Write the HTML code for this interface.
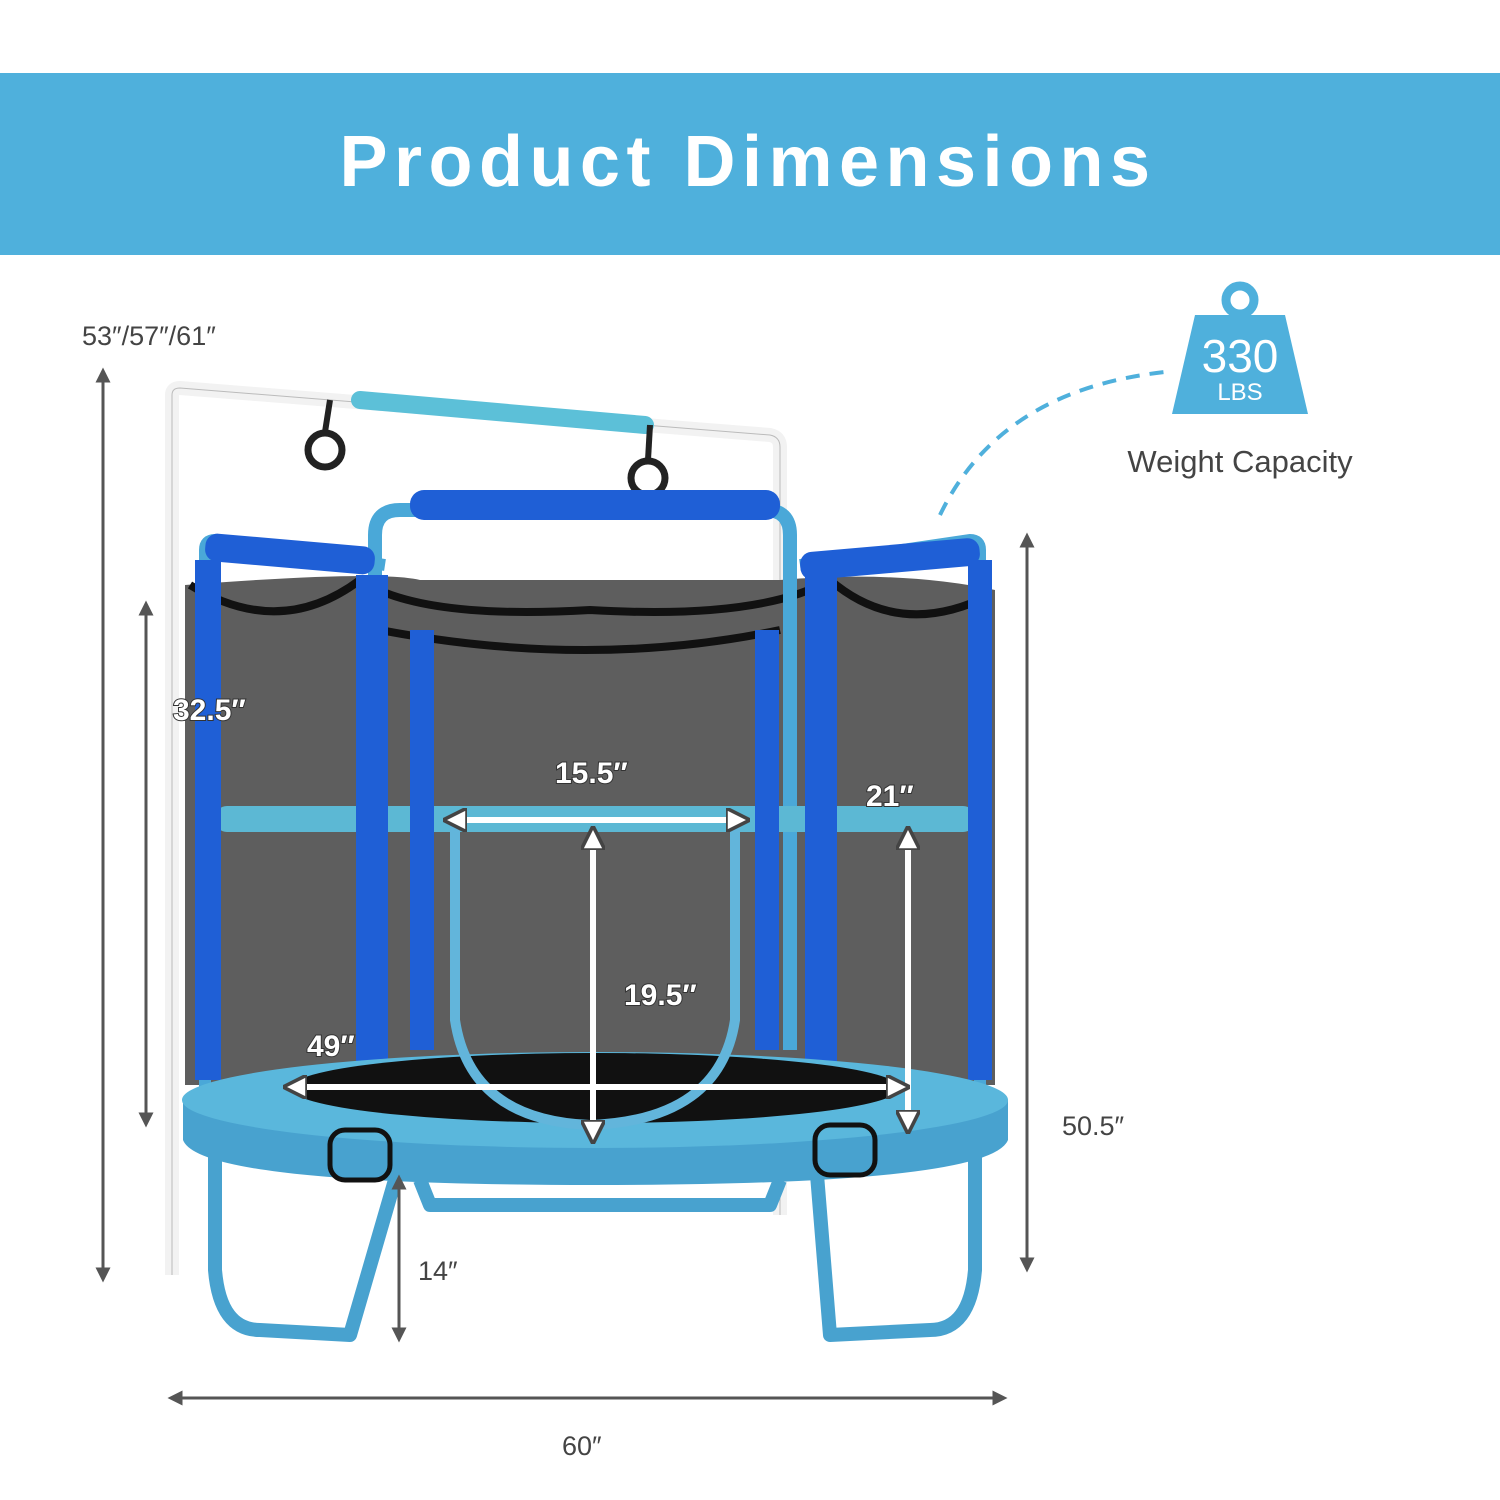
<!DOCTYPE html>
<html><head><meta charset="utf-8"><style>
html,body{margin:0;padding:0;background:#fff;}
svg{display:block}
</style></head><body>
<svg width="1500" height="1500" viewBox="0 0 1500 1500" xmlns="http://www.w3.org/2000/svg" font-family="Liberation Sans, sans-serif">
<defs>
<marker id="a" viewBox="0 0 10 10" refX="5" refY="5" markerWidth="5" markerHeight="5" orient="auto-start-reverse"><path d="M0,0 L10,5 L0,10 z" fill="#555"/></marker>
<marker id="w" viewBox="0 0 10 10" refX="5" refY="5" markerWidth="4" markerHeight="4" orient="auto-start-reverse"><path d="M0,0 L10,5 L0,10 z" fill="#fff" stroke="#444" stroke-width="1.5"/></marker>
</defs>
<rect x="0" y="73" width="1500" height="182" fill="#4fb0dc"/>
<text x="748" y="186" text-anchor="middle" font-size="72" font-weight="900" fill="#fff" letter-spacing="6.5">Product Dimensions</text>

<!-- white frame -->
<path d="M172,1275 L172,395 Q172,388 180,388 L770,435 Q780,437 780,447 L780,1215" fill="none" stroke="#f2f2f2" stroke-width="14"/>
<path d="M172,1275 L172,395 Q172,388 180,388 L770,435 Q780,437 780,447 L780,1215" fill="none" stroke="#bbb" stroke-width="1"/>
<line x1="360" y1="400" x2="645" y2="425" stroke="#5cc0d8" stroke-width="18" stroke-linecap="round"/>
<circle cx="325" cy="450" r="17" fill="none" stroke="#222" stroke-width="7"/>
<circle cx="648" cy="478" r="17" fill="none" stroke="#222" stroke-width="7"/>
<line x1="330" y1="400" x2="325" y2="432" stroke="#222" stroke-width="6"/>
<line x1="650" y1="425" x2="648" y2="460" stroke="#222" stroke-width="6"/>

<!-- net -->
<path d="M185,585 Q380,570 420,580 L780,580 Q900,570 995,590 L995,1085 L185,1085 Z" fill="#5e5e5e"/>
<path d="M190,585 Q280,640 360,580 Q420,620 590,610 Q760,620 830,580 Q900,640 990,595" fill="none" stroke="#111" stroke-width="8"/>
<path d="M380,630 Q590,670 780,630" fill="none" stroke="#111" stroke-width="8"/>
<!-- arch -->
<path d="M375,1050 L375,535 Q375,510 400,510 L765,510 Q790,510 790,535 L790,1050" fill="none" stroke="#4aa8d8" stroke-width="14"/>
<rect x="410" y="490" width="370" height="30" rx="14" fill="#1f5fd6"/>
<path d="M205,1120 L205,550 Q205,540 215,540 L385,565 M980,1120 L980,550 Q980,540 970,540 L800,565" fill="none" stroke="#4aa8d8" stroke-width="12"/>
<rect x="205" y="540" width="170" height="28" rx="12" fill="#1f5fd6" transform="rotate(5 290 554)"/>
<rect x="800" y="545" width="180" height="28" rx="12" fill="#1f5fd6" transform="rotate(-5 890 559)"/>
<!-- horizontal bar -->
<rect x="215" y="806" width="760" height="26" rx="12" fill="#5cb8d4"/>
<!-- blue poles -->
<g fill="#1f5fd6">
<rect x="195" y="560" width="26" height="520"/>
<rect x="356" y="575" width="32" height="560"/>
<rect x="410" y="630" width="24" height="420"/>
<rect x="755" y="630" width="24" height="420"/>
<rect x="805" y="575" width="32" height="560"/>
<rect x="968" y="560" width="24" height="520"/>
</g>
<!-- base -->
<path d="M183,1100 L183,1140 Q200,1185 595,1185 Q990,1185 1008,1140 L1008,1100 Z" fill="#48a2cf"/>
<ellipse cx="595" cy="1100" rx="413" ry="48" fill="#5ab7dc"/>
<ellipse cx="595" cy="1088" rx="305" ry="35" fill="#111"/>
<!-- door -->
<path d="M455,820 L455,1020 Q470,1120 590,1125 Q720,1120 735,1020 L735,820" fill="none" stroke="#62b5db" stroke-width="10"/>
<!-- legs -->
<path d="M215,1155 L215,1270 Q220,1330 260,1330 L350,1335 L395,1180 M975,1155 L975,1270 Q970,1330 930,1330 L830,1335 L815,1150 M420,1180 L430,1205 L770,1205 L780,1180" fill="none" stroke="#48a2cf" stroke-width="14" stroke-linejoin="round"/>
<rect x="330" y="1130" width="60" height="50" rx="15" fill="none" stroke="#111" stroke-width="5"/>
<rect x="815" y="1125" width="60" height="50" rx="15" fill="none" stroke="#111" stroke-width="5"/>

<!-- white arrows -->
<g stroke="#fff" stroke-width="6" marker-start="url(#w)" marker-end="url(#w)" fill="none">
<line x1="455" y1="820" x2="738" y2="820"/>
<line x1="593" y1="838" x2="593" y2="1132"/>
<line x1="908" y1="838" x2="908" y2="1122"/>
<line x1="295" y1="1087" x2="898" y2="1087"/>
</g>
<g font-size="30" font-weight="bold" fill="#fff" stroke="#333" stroke-width="2" paint-order="stroke">
<text x="555" y="783">15.5″</text>
<text x="866" y="806">21″</text>
<text x="624" y="1005">19.5″</text>
<text x="307" y="1056">49″</text>
<text x="173" y="720">32.5″</text>
</g>

<!-- gray dimension lines -->
<g stroke="#555" stroke-width="3" marker-start="url(#a)" marker-end="url(#a)">
<line x1="103" y1="375" x2="103" y2="1275"/>
<line x1="146" y1="608" x2="146" y2="1120"/>
<line x1="1027" y1="540" x2="1027" y2="1265"/>
<line x1="399" y1="1182" x2="399" y2="1335"/>
<line x1="175" y1="1398" x2="1000" y2="1398"/>
</g>
<g font-size="27" fill="#444">
<text x="82" y="345">53″/57″/61″</text>
<text x="418" y="1280">14″</text>
<text x="1062" y="1135">50.5″</text>
<text x="562" y="1455">60″</text>
</g>

<!-- weight -->
<path d="M940,515 Q1000,390 1165,372" fill="none" stroke="#4fb0dc" stroke-width="4" stroke-dasharray="14,10"/>
<circle cx="1240" cy="300" r="14" fill="none" stroke="#4fb0dc" stroke-width="9"/>
<path d="M1195,315 L1285,315 L1308,414 L1172,414 Z" fill="#4fb0dc"/>
<text x="1240" y="372" text-anchor="middle" font-size="46" fill="#fff">330</text>
<text x="1240" y="400" text-anchor="middle" font-size="24" fill="#fff">LBS</text>
<text x="1240" y="472" text-anchor="middle" font-size="31" fill="#444">Weight Capacity</text>
</svg>
</body></html>
